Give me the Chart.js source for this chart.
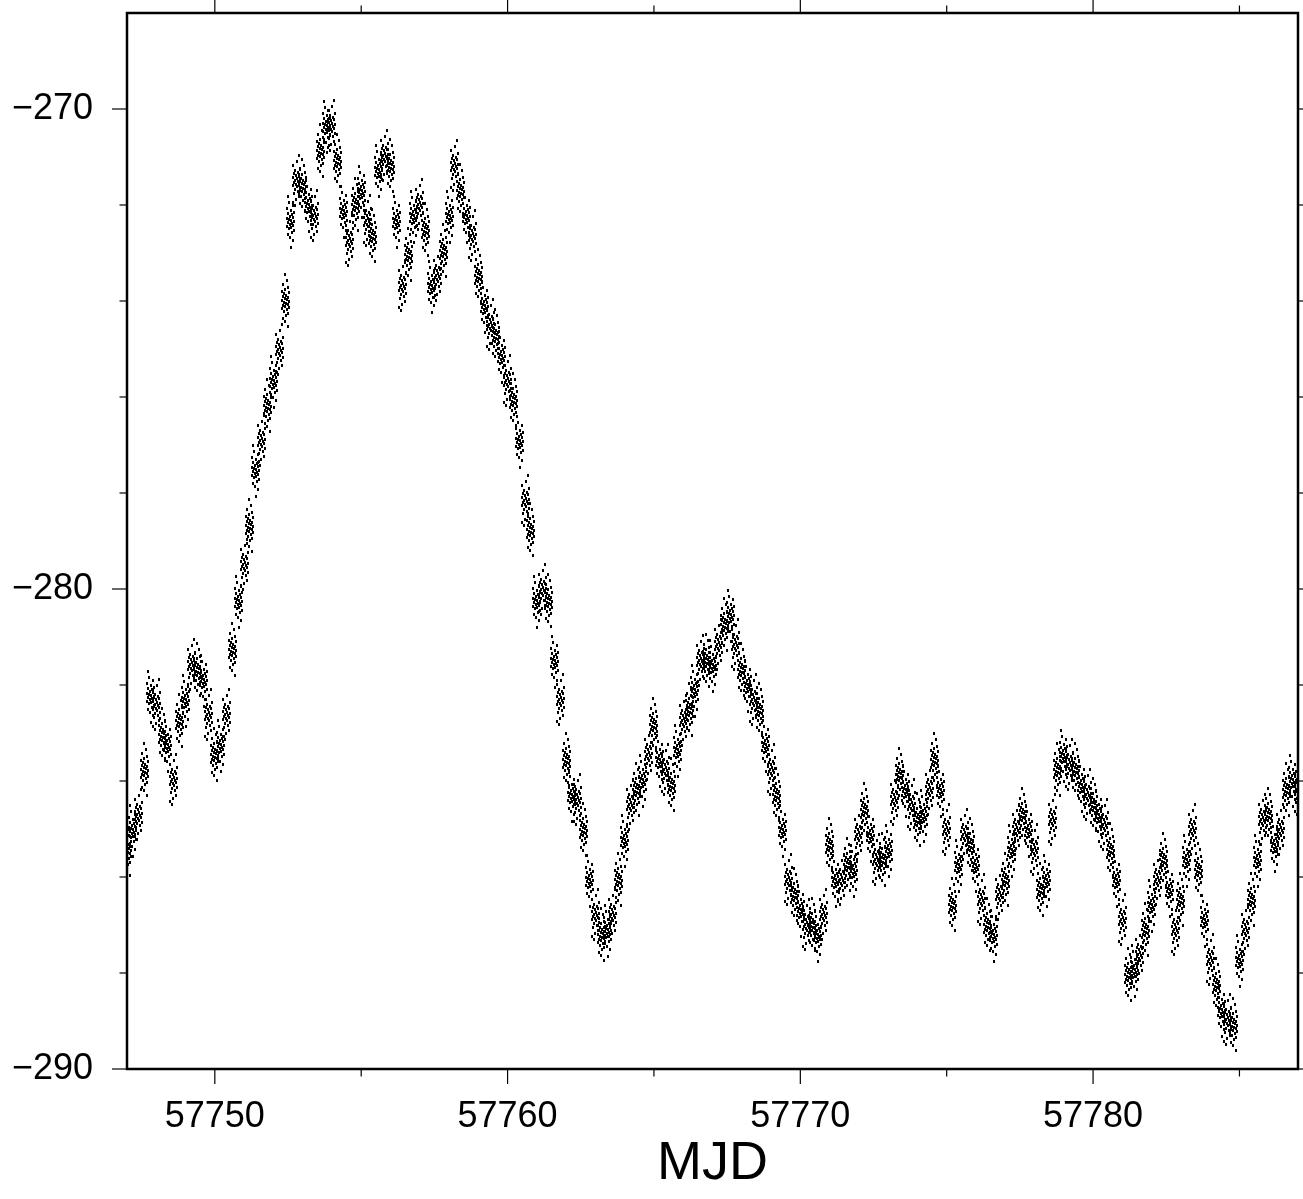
<!DOCTYPE html>
<html>
<head>
<meta charset="utf-8">
<script src="https://cdn.jsdelivr.net/npm/chart.js@4.4.1/dist/chart.umd.min.js"></script>
<style>
  html, body { margin: 0; padding: 0; background: #fff; }
  #wrap { width: 1303px; height: 1199px; }
</style>
</head>
<body>
<div id="wrap"><canvas id="plot" width="1303" height="1199"></canvas></div>
<script>
// --- DATA (one value every 0.2 d) ---
const sampleStart = 57747.0;
const sampleStep = 0.2;
const residual = [
  -285.44, -285.03, -284.71, -283.78, -282.22, -282.42, -283.05, -283.26, -283.98, -282.74,
  -282.32, -281.59, -281.69, -281.90, -282.63, -283.46, -283.26, -282.63, -281.28, -280.24,
  -279.51, -278.68, -277.53, -276.91, -276.18, -275.66, -275.03, -273.99, -272.33, -271.49,
  -271.60, -272.01, -272.22, -270.87, -270.35, -270.35, -271.08, -272.12, -272.74, -272.01,
  -271.70, -272.33, -272.64, -271.28, -270.97, -271.18, -272.33, -273.68, -273.05, -272.22,
  -272.01, -272.53, -273.68, -273.47, -272.95, -272.22, -271.18, -271.70, -272.22, -272.64,
  -273.47, -274.10, -274.51, -274.72, -275.14, -275.66, -276.07, -276.91, -278.16, -278.78,
  -280.24, -280.03, -280.24, -281.49, -282.32, -283.57, -284.30, -284.40, -285.03, -286.07,
  -286.80, -287.21, -287.11, -286.80, -286.07, -285.23, -284.51, -284.19, -283.98, -283.46,
  -282.84, -283.57, -283.78, -284.09, -283.36, -282.74, -282.53, -282.11, -281.49, -281.49,
  -281.59, -281.17, -280.76, -280.55, -281.17, -281.69, -282.01, -282.32, -282.53, -283.26,
  -283.78, -284.30, -285.03, -286.07, -286.38, -286.69, -287.00, -287.00, -287.21, -286.80,
  -285.34, -286.07, -286.07, -285.75, -285.86, -285.13, -284.61, -285.13, -285.65, -285.65,
  -285.44, -284.40, -283.88, -284.19, -284.51, -284.82, -284.71, -284.19, -283.57, -284.19,
  -285.03, -286.59, -285.75, -285.13, -285.34, -285.75, -286.48, -287.00, -287.21, -286.38,
  -286.07, -285.44, -285.03, -284.71, -285.03, -285.44, -286.28, -286.07, -284.82, -283.78,
  -283.46, -283.67, -283.78, -284.09, -284.30, -284.51, -284.71, -284.92, -285.44, -286.07,
  -286.90, -288.04, -287.94, -287.63, -287.11, -286.59, -286.07, -285.65, -286.28, -287.11,
  -286.48, -285.65, -285.03, -285.86, -286.90, -287.73, -288.25, -288.77, -288.98, -289.09,
  -287.73, -287.11, -286.48, -285.65, -284.82, -284.71, -285.34, -285.03, -284.19, -283.98,
  -284.19
];

// --- AXES ---
const xRange = [57747, 57787];
const yRange = [-290, -268];
const xLabelTicks = [57750, 57760, 57770, 57780];
const xMinorTicks = [57755, 57765, 57775, 57785];
const yLabelTicks = [-290, -280, -270];
const yMinorTicks = [-288, -286, -284, -282, -278, -276, -274, -272];

const FONT = '"Liberation Sans", Arial, Helvetica, sans-serif';

// small stamps of scattered vertical dashes, used as the point marker
function makeStamp(marks) {
  const c = document.createElement('canvas');
  c.width = 9;
  c.height = 56;
  const g = c.getContext('2d');
  g.fillStyle = '#000';
  marks.forEach(([mx, my]) => g.fillRect(mx, my, 2, 3));
  return c;
}
const stamps = [
  makeStamp([[3,0],[5,6],[1,10],[6,13],[3,15],[0,17],[7,18],[2,19],[4,21],[1,22],[6,23],[3,24],[5,25],
             [0,26],[7,27],[2,28],[4,29],[6,30],[1,31],[3,32],[7,33],[0,34],[5,35],[2,37],[6,39],
             [4,41],[1,44],[3,47],[6,52]]),
  makeStamp([[1,2],[2,8],[6,11],[0,14],[4,16],[7,18],[1,19],[5,20],[3,22],[6,23],[0,24],[2,25],[4,26],
             [7,27],[1,28],[5,29],[3,30],[6,31],[0,32],[4,33],[2,34],[7,36],[5,38],[1,40],[3,43],
             [6,46],[4,53]]),
  makeStamp([[6,1],[4,7],[0,11],[7,14],[2,16],[5,18],[1,19],[6,20],[3,21],[0,23],[4,24],[7,25],[2,26],
             [5,27],[1,28],[6,29],[3,30],[0,31],[4,32],[7,34],[2,35],[5,37],[1,39],[6,42],[3,45],
             [0,48],[2,51]])
];

const points = residual.map((v, i) => ({ x: sampleStart + i * sampleStep, y: v }));

// crisp stamps (no resampling blur)
const crispPlugin = {
  id: 'crisp',
  beforeDatasetsDraw(chart) { chart.ctx.imageSmoothingEnabled = false; }
};

// --- FRAME + TICKS (GMT style, ticks outside on all four sides) ---
const framePlugin = {
  id: 'frame',
  afterDraw(chart) {
    const { ctx, chartArea: a, scales: { x, y } } = chart;
    const seg = (x1, y1, x2, y2) => {
      ctx.beginPath();
      ctx.moveTo(x1, y1);
      ctx.lineTo(x2, y2);
      ctx.stroke();
    };
    ctx.save();
    ctx.strokeStyle = '#000';
    ctx.lineWidth = 1.2;
    xLabelTicks.forEach(v => {
      const p = x.getPixelForValue(v);
      seg(p, a.bottom, p, a.bottom + 15);
      seg(p, a.top, p, a.top - 15);
    });
    xMinorTicks.forEach(v => {
      const p = x.getPixelForValue(v);
      seg(p, a.bottom, p, a.bottom + 7.5);
      seg(p, a.top, p, a.top - 7.5);
    });
    yLabelTicks.forEach(v => {
      const p = y.getPixelForValue(v);
      seg(a.left - 15, p, a.left, p);
      seg(a.right, p, a.right + 15, p);
    });
    yMinorTicks.forEach(v => {
      const p = y.getPixelForValue(v);
      seg(a.left - 7.5, p, a.left, p);
      seg(a.right, p, a.right + 7.5, p);
    });
    ctx.lineWidth = 2.5;
    ctx.strokeRect(a.left, a.top, a.right - a.left, a.bottom - a.top);
    ctx.restore();
  }
};

window.onload = () => {
  const ctx = document.getElementById('plot').getContext('2d');
  new Chart(ctx, {
    type: 'scatter',
    data: {
      datasets: [{
        data: points,
        pointStyle: c => stamps[c.dataIndex % 3],
        pointRadius: 3,
        borderWidth: 0
      }]
    },
    options: {
      responsive: false,
      animation: false,
      devicePixelRatio: 1,
      layout: { padding: { top: 13, right: 5, left: 0, bottom: 0 } },
      plugins: { legend: { display: false }, tooltip: { enabled: false } },
      scales: {
        x: {
          type: 'linear',
          min: xRange[0],
          max: xRange[1],
          grid: { display: false },
          border: { display: false },
          afterBuildTicks: s => { s.ticks = xLabelTicks.map(v => ({ value: v })); },
          afterFit: s => {
            s.height = 130;
            s.paddingLeft = 0;
            s.paddingRight = 0;
          },
          ticks: {
            padding: 18,
            color: '#000',
            maxRotation: 0,
            autoSkip: false,
            font: { family: FONT, size: 36 },
            callback: v => String(v)
          },
          title: {
            display: true,
            text: 'MJD',
            color: '#000',
            font: { family: FONT, size: 54 },
            padding: { top: 0, bottom: 2 }
          }
        },
        y: {
          type: 'linear',
          min: yRange[0],
          max: yRange[1],
          grid: { display: false },
          border: { display: false },
          afterBuildTicks: s => { s.ticks = yLabelTicks.map(v => ({ value: v })); },
          afterFit: s => {
            s.width = 127;
            s.paddingTop = 0;
            s.paddingBottom = 0;
          },
          ticks: {
            padding: 26,
            color: '#000',
            autoSkip: false,
            font: { family: FONT, size: 36 },
            callback: v => '\u2212' + Math.abs(v)
          }
        }
      }
    },
    plugins: [crispPlugin, framePlugin]
  });
};
</script>
</body>
</html>
